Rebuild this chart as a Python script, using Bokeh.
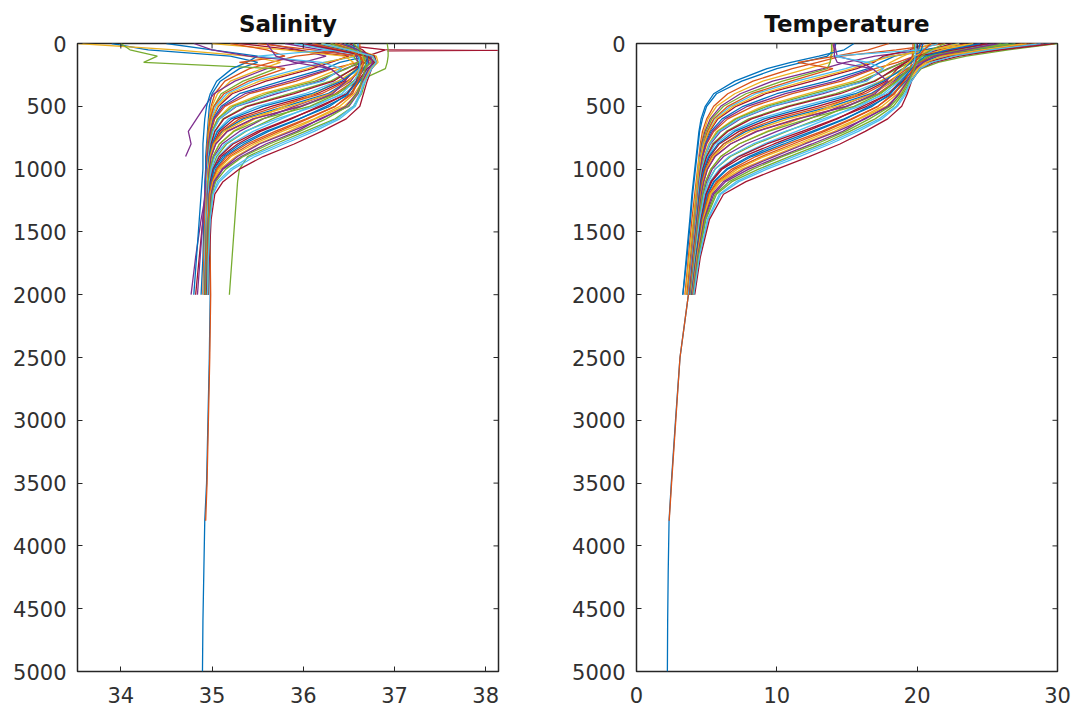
from bokeh.plotting import figure
from bokeh.layouts import row
from bokeh.models import FixedTicker, Range1d
from bokeh.embed import file_html
from bokeh.resources import INLINE

# Depth levels (m) shared by all profiles; a profile stops where its list ends
DEPTH = [0, 50, 100, 150, 200, 300, 400, 500, 600, 700, 800, 900, 1000,
         1100, 1200, 1400, 1700, 2000, 2500, 3000, 3500, 3800, 4200, 4600, 5000]

TEMP = [
    [14.2, 14.1, 13.6, 11.8, 10.0, 7.5, 5.7, 5.0, 4.7, 4.5, 4.4, 4.3, 4.2, 4.1, 4.0, 3.85, 3.6, 3.3],
    [22.0, 18.5, 14.6, 12.9, 11.1, 8.3, 6.5, 5.5, 5.0, 4.7, 4.55, 4.45, 4.35, 4.25, 4.15, 3.95, 3.7, 3.45],
    [14.0, 14.0, 13.9, 13.8, 12.2, 9.0, 7.0, 5.7, 5.1, 4.8, 4.6, 4.47, 4.38, 4.3, 4.22, 4.05, 3.75, 3.5],
    [24.5, 20.5, 17.0, 14.9, 13.3, 9.7, 7.4, 6.0, 5.26, 4.88, 4.64, 4.5],
    [13.9, 13.9, 13.85, 13.8, 13.6, 10.4, 7.8, 6.2, 5.36, 4.96, 4.7, 4.55, 4.45, 4.36, 4.28, 4.1, 3.85, 3.6],
    [26.5, 22.0, 18.0, 16.4, 14.9, 11.4, 8.5, 6.7, 5.55, 5.06, 4.75, 4.56, 4.46, 4.38, 4.3, 4.15, 3.9, 3.62],
    [20.5, 19.5, 17.6, 16.9, 15.7, 12.5, 9.2, 7.1, 5.8, 5.2, 4.82, 4.6, 4.5, 4.42, 4.35, 4.2, 3.9, 3.65],
    [23.0, 20.5, 18.4, 17.4, 16.5, 13.6, 10.0, 7.6, 6.1, 5.3, 4.9, 4.65, 4.5, 4.42, 4.35, 4.2, 3.95, 3.7,
     3.1, 2.78, 2.48, 2.32, 2.26, 2.22, 2.2],
    [28.0, 23.5, 19.8, 18.6, 17.0, 14.6, 11.1, 8.3, 6.5, 5.5, 5.0, 4.72, 4.55, 4.45, 4.38, 4.22, 3.95, 3.7,
     3.1, 2.8, 2.5, 2.33],
    [21.0, 20.0, 19.0, 18.1, 17.5, 15.5, 12.2, 9.0, 7.0, 5.7, 5.14, 4.8, 4.6, 4.48, 4.4, 4.25, 4.0, 3.75],
    [25.5, 22.0, 19.8, 19.0, 17.9, 16.2, 13.3, 9.7, 7.4, 6.0, 5.26, 4.88, 4.64, 4.5, 4.42, 4.25, 3.98, 3.72],
    [19.8, 19.8, 19.7, 19.5, 18.6, 16.9, 14.2, 10.7, 8.0, 6.4, 5.42, 4.98, 4.7, 4.55, 4.45, 4.28, 4.0, 3.75],
    [29.0, 25.0, 21.5, 20.2, 19.2, 17.4, 15.2, 11.8, 8.7, 6.8, 5.6, 5.1, 4.77, 4.6, 4.5, 4.3, 4.05, 3.8],
    [23.5, 21.5, 19.9, 19.2, 18.6, 17.8, 16.0, 12.9, 9.5, 7.3, 5.9, 5.22, 4.85, 4.65, 4.52, 4.32, 4.05, 3.8],
    [20.2, 20.1, 20.0, 19.9, 19.6, 18.1, 16.7, 13.9, 10.4, 7.8, 6.2, 5.36, 4.94, 4.72, 4.58, 4.35, 4.08, 3.82],
    [27.5, 24.0, 21.0, 20.0, 19.4, 18.45, 17.2, 14.9, 11.4, 8.5, 6.7, 5.55, 5.06, 4.8, 4.62, 4.38, 4.1, 3.85],
    [24.0, 21.8, 20.3, 19.6, 19.0, 17.4, 15.8, 13.8, 11.6, 9.3, 7.3, 6.0, 5.3, 4.92, 4.7, 4.45, 4.15, 3.85],
    [20.0, 20.0, 19.95, 19.9, 19.7, 18.3, 16.8, 14.5, 12.3, 10.0, 7.8, 6.2, 5.4, 5.0, 4.75, 4.48, 4.18, 3.9],
    [26.0, 23.0, 20.8, 20.0, 19.5, 18.6, 17.3, 15.0, 13.0, 10.7, 8.5, 6.7, 5.6, 5.1, 4.82, 4.52, 4.2, 3.9],
    [29.5, 25.5, 22.0, 20.5, 19.8, 19.0, 17.8, 15.6, 13.6, 11.4, 9.1, 7.2, 5.9, 5.24, 4.9, 4.58, 4.22, 3.92],
    [22.5, 21.0, 20.2, 19.8, 19.5, 18.8, 18.0, 16.1, 14.3, 12.1, 9.8, 7.6, 6.1, 5.36, 4.97, 4.62, 4.25, 3.95],
    [27.0, 24.2, 21.5, 20.4, 19.9, 19.2, 18.3, 16.6, 14.9, 12.7, 10.5, 8.2, 6.5, 5.55, 5.08, 4.68, 4.28, 3.97],
    [19.7, 19.7, 19.65, 19.6, 19.5, 19.0, 18.4, 17.2, 15.4, 13.4, 11.15, 8.9, 7.0, 5.8, 5.2, 4.72, 4.3, 4.0],
    [28.5, 25.0, 22.3, 20.8, 20.1, 19.4, 18.8, 17.8, 15.9, 14.1, 11.8, 9.6, 7.5, 6.0, 5.3, 4.8, 4.35, 4.0],
    [25.0, 22.5, 20.9, 20.2, 19.8, 19.3, 18.7, 18.0, 16.2, 14.7, 12.5, 10.2, 8.0, 6.35, 5.5, 4.85, 4.38, 4.02],
    [30.0, 26.5, 23.5, 21.5, 20.3, 19.5, 19.0, 18.3, 17.0, 15.2, 13.2, 10.9, 8.7, 6.8, 5.7, 4.95, 4.42, 4.05],
    [23.0, 21.2, 20.4, 20.0, 19.8, 19.5, 19.2, 18.6, 17.5, 15.8, 13.8, 11.6, 9.3, 7.3, 6.0, 5.1, 4.5, 4.1],
    [29.0, 25.8, 23.0, 21.2, 20.2, 19.6, 19.3, 18.9, 17.9, 16.3, 14.5, 12.3, 10.0, 7.8, 6.2, 5.2, 4.55, 4.15],
    [15.5, 14.8, 13.0, 11.0, 9.3, 7.0, 5.5, 4.9, 4.6, 4.45, 4.35, 4.25, 4.15, 4.05, 3.95, 3.8, 3.55, 3.3],
    [18.0, 16.5, 14.2, 11.5, 14.0, 11.0, 8.2, 6.5, 5.5, 5.05, 4.78, 4.6, 4.48, 4.4, 4.32, 4.15, 3.88, 3.6],
    [24.0, 21.0, 18.2, 16.6, 15.4, 12.0, 8.9, 6.9, 5.7, 5.15, 4.8, 4.6, 4.48, 4.4, 4.33, 4.18, 3.92, 3.66],
    [14.1, 14.2, 14.3, 16.0, 16.8, 14.2, 10.6, 7.9, 6.3, 5.4, 4.95, 4.7, 4.55, 4.45, 4.38, 4.22, 3.95, 3.7],
    [27.0, 23.8, 20.4, 19.0, 18.0, 15.9, 12.6, 9.3, 7.1, 5.8, 5.2, 4.85, 4.62, 4.5, 4.42, 4.26, 4.0, 3.75],
    [21.5, 20.2, 14.0, 16.5, 17.6, 16.4, 13.0, 9.6, 7.3, 5.9, 5.2, 4.88, 4.65, 4.5, 4.42, 4.25, 3.98, 3.72],
    [25.0, 22.6, 20.0, 19.2, 18.4, 17.0, 14.5, 10.9, 8.2, 6.5, 5.5, 5.0, 4.72, 4.57, 4.47, 4.3, 4.02, 3.77],
    [20.4, 20.3, 20.0, 19.6, 19.0, 17.6, 15.6, 12.3, 9.1, 7.0, 5.8, 5.15, 4.8, 4.62, 4.5, 4.32, 4.05, 3.8],
    [28.5, 24.8, 21.3, 20.1, 19.3, 18.0, 16.3, 13.4, 10.0, 7.6, 6.2, 5.35, 4.92, 4.68, 4.55, 4.35, 4.06, 3.8],
    [23.0, 21.0, 19.8, 19.4, 19.0, 18.2, 16.9, 14.3, 10.8, 8.1, 6.4, 5.45, 4.98, 4.74, 4.6, 4.38, 4.1, 3.85],
    [14.0, 14.1, 14.1, 14.3, 16.8, 17.9, 17.0, 15.0, 11.5, 8.6, 6.7, 5.6, 5.05, 4.78, 4.62, 4.4, 4.12, 3.86],
    [26.5, 23.6, 20.9, 20.0, 19.4, 18.5, 17.4, 15.5, 12.2, 9.4, 7.3, 6.0, 5.3, 4.92, 4.7, 4.44, 4.14, 3.87],
    [19.9, 19.9, 19.85, 19.8, 19.6, 18.7, 17.6, 15.9, 13.3, 10.6, 8.3, 6.6, 5.6, 5.1, 4.82, 4.5, 4.18, 3.9],
    [29.8, 26.0, 22.4, 20.6, 19.8, 19.0, 18.0, 16.4, 14.2, 11.8, 9.3, 7.3, 6.0, 5.3, 4.95, 4.6, 4.24, 3.93],
    [24.5, 22.2, 20.6, 20.0, 19.6, 18.9, 18.1, 16.8, 14.8, 12.5, 10.1, 8.0, 6.4, 5.5, 5.05, 4.65, 4.26, 3.95],
    [21.0, 20.5, 20.1, 19.9, 19.7, 19.1, 18.3, 17.2, 15.3, 13.2, 10.8, 8.5, 6.8, 5.7, 5.15, 4.7, 4.3, 3.97],
    [27.8, 24.6, 21.8, 20.6, 20.0, 19.3, 18.6, 17.5, 15.8, 13.7, 11.5, 9.1, 7.2, 5.9, 5.25, 4.75, 4.32, 4.0],
    [25.8, 23.4, 21.2, 20.4, 19.9, 19.3, 18.7, 17.9, 16.3, 14.3, 12.0, 9.8, 7.7, 6.2, 5.4, 4.82, 4.36, 4.02],
    [22.0, 21.0, 20.3, 20.0, 19.8, 19.4, 18.9, 18.1, 16.6, 14.9, 12.8, 10.4, 8.3, 6.6, 5.6, 4.9, 4.4, 4.05],
    [28.8, 25.2, 22.6, 21.0, 20.2, 19.6, 19.1, 18.5, 17.3, 15.5, 13.5, 11.2, 9.0, 7.1, 5.9, 5.05, 4.48, 4.08],
]

SAL = [
    [33.9, 34.3, 35.2, 35.5, 35.3, 35.09, 35.0, 34.97, 34.96, 34.95, 34.94, 34.93, 34.93, 34.92, 34.92, 34.91, 34.9, 34.88],
    [36.1, 36.5, 35.92, 35.65, 35.41, 35.14, 35.03, 34.99, 34.97, 34.96, 34.95, 34.95, 34.95, 34.95, 34.95, 34.95, 34.94, 34.93],
    [33.53, 34.6, 35.4, 35.75, 35.55, 35.2, 35.06, 35.0, 34.97, 34.96, 34.95, 34.95, 34.94, 34.94, 34.94, 34.93, 34.93, 34.92],
    [35.6, 35.95, 36.25, 36.0, 35.6, 35.25, 35.02, 34.92, 34.83, 34.74, 34.77, 34.71],
    [34.0, 34.1, 34.4, 34.25, 35.7, 35.34, 35.1, 35.02, 34.98, 34.96, 34.95, 34.95, 34.95, 34.95, 34.94, 34.94, 34.93, 34.93],
    [36.2, 36.45, 36.6, 36.22, 35.96, 35.45, 35.16, 35.04, 34.99, 34.97, 34.96, 34.95, 34.95, 34.95, 34.95, 34.95, 34.95, 34.94],
    [35.3, 35.9, 36.5, 36.3, 36.1, 35.59, 35.22, 35.07, 35.0, 34.98, 34.96, 34.95, 34.94, 34.93, 34.93, 34.9, 34.86, 34.82],
    [36.3, 36.55, 36.7, 36.4, 36.24, 35.76, 35.3, 35.1, 35.01, 34.98, 34.97, 34.97, 34.97, 34.97, 34.97, 34.97, 34.98, 34.98,
     34.97, 34.955, 34.94, 34.92, 34.91, 34.9, 34.895],
    [36.4, 36.6, 36.75, 36.6, 36.32, 35.92, 35.41, 35.14, 35.03, 34.99, 34.97, 34.97, 34.97, 34.97, 34.97, 34.97, 34.98, 34.985,
     34.975, 34.96, 34.945, 34.93],
    [35.0, 35.8, 36.45, 36.55, 36.4, 36.07, 35.55, 35.2, 35.06, 35.0, 34.97, 34.96, 34.95, 34.94, 34.94, 34.93, 34.92, 34.91],
    [35.8, 36.2, 36.6, 36.65, 36.46, 36.18, 35.71, 35.27, 35.08, 35.0, 34.97, 34.95, 34.94, 34.94, 34.93, 34.88, 34.82, 34.77],
    [36.5, 36.5, 36.55, 36.6, 36.56, 36.3, 35.85, 35.37, 35.12, 35.03, 34.99, 34.97, 34.96, 34.95, 34.95, 34.95, 34.94, 34.93],
    [36.0, 36.3, 36.7, 36.75, 36.65, 36.38, 36.02, 35.5, 35.18, 35.05, 35.0, 34.97, 34.96, 34.96, 34.95, 34.95, 34.94, 34.94],
    [36.3, 36.9, 36.7, 36.65, 36.58, 36.45, 36.15, 35.65, 35.25, 35.08, 35.01, 34.98, 34.96, 34.95, 34.95, 34.94, 34.93, 34.92],
    [36.6, 36.6, 36.62, 36.65, 36.64, 36.49, 36.27, 35.8, 35.34, 35.11, 35.02, 34.98, 34.97, 34.96, 34.96, 34.95, 34.95, 34.94],
    [35.5, 36.1, 36.6, 36.72, 36.68, 36.55, 36.35, 35.96, 35.45, 35.16, 35.04, 34.99, 34.97, 34.96, 34.96, 34.95, 34.94, 34.93],
    [36.2, 36.5, 36.7, 36.68, 36.6, 36.38, 36.12, 35.79, 35.47, 35.23, 35.08, 35.01, 34.98, 34.97, 34.96, 34.96, 34.95, 34.95],
    [36.55, 36.56, 36.58, 36.6, 36.62, 36.52, 36.29, 35.9, 35.56, 35.3, 35.11, 35.02, 34.98, 34.97, 34.96, 34.95, 34.94, 34.93],
    [36.92, 36.93, 36.93, 36.92, 36.9, 36.6, 36.37, 35.98, 35.66, 35.37, 35.16, 35.05, 35.0, 34.97, 34.96, 34.95, 34.95, 34.94],
    [35.9, 36.3, 36.75, 36.8, 36.7, 36.62, 36.45, 36.08, 35.76, 35.45, 35.21, 35.07, 35.0, 34.98, 34.97, 34.96, 34.95, 34.95],
    [36.4, 36.55, 36.65, 36.65, 36.63, 36.58, 36.48, 36.17, 35.87, 35.53, 35.28, 35.1, 35.02, 34.99, 34.97, 34.96, 34.95, 34.95],
    [36.1, 36.45, 36.72, 36.78, 36.72, 36.62, 36.52, 36.25, 35.96, 35.62, 35.35, 35.14, 35.04, 35.0, 34.98, 34.97, 34.96, 34.96],
    [36.62, 36.62, 36.63, 36.63, 36.63, 36.6, 36.54, 36.35, 36.05, 35.73, 35.42, 35.19, 35.06, 35.0, 34.98, 34.96, 34.95, 34.95],
    [36.35, 36.6, 36.8, 36.82, 36.75, 36.66, 36.6, 36.45, 36.13, 35.84, 35.5, 35.26, 35.09, 35.01, 34.98, 34.97, 34.96, 34.96],
    [36.0, 36.4, 36.7, 36.72, 36.68, 36.64, 36.6, 36.5, 36.18, 35.93, 35.59, 35.32, 35.12, 35.03, 34.99, 34.97, 34.96, 34.95],
    [36.2, 36.5, 36.78, 36.8, 36.74, 36.68, 36.64, 36.55, 36.35, 36.02, 35.69, 35.39, 35.3, 35.28, 35.27, 35.25, 35.22, 35.19],
    [36.5, 36.6, 36.68, 36.7, 36.7, 36.66, 36.63, 36.57, 36.4, 36.12, 35.79, 35.47, 35.23, 35.08, 35.01, 34.98, 34.96, 34.96],
    [36.3, 36.55, 36.78, 36.8, 36.75, 36.7, 36.66, 36.62, 36.47, 36.2, 35.9, 35.56, 35.3, 35.12, 35.03, 34.99, 34.97, 34.96],
    [34.5, 35.0, 35.5, 35.38, 35.22, 35.05, 34.98, 34.94, 34.92, 34.91, 34.9, 34.9, 34.9, 34.89, 34.88, 34.86, 34.83, 34.8],
    [35.2, 35.6, 35.8, 35.3, 35.8, 35.4, 35.13, 35.02, 34.98, 34.96, 34.95, 34.94, 34.94, 34.93, 34.93, 34.92, 34.91, 34.9],
    [36.4, 36.6, 36.55, 36.25, 36.05, 35.52, 35.19, 35.06, 35.0, 34.97, 34.96, 34.95, 34.95, 34.94, 34.94, 34.93, 34.92, 34.91],
    [34.8, 35.0, 35.4, 36.1, 36.3, 35.85, 35.36, 35.12, 35.02, 34.98, 34.96, 34.95, 34.94, 34.93, 34.92, 34.9, 34.87, 34.84],
    [36.3, 36.55, 36.7, 36.6, 36.48, 36.13, 35.6, 35.23, 35.06, 35.0, 34.97, 34.96, 34.95, 34.95, 34.94, 34.94, 34.93, 34.92],
    [36.0, 36.3, 35.5, 36.2, 36.42, 36.22, 35.66, 35.26, 35.08, 35.01, 34.98, 34.96, 34.95, 34.94, 34.94, 34.93, 34.92, 34.91],
    [36.5, 36.65, 36.72, 36.68, 36.55, 36.33, 35.9, 35.39, 35.13, 35.03, 34.99, 34.97, 34.96, 34.96, 34.95, 34.95, 34.94, 34.93],
    [36.55, 36.56, 36.6, 36.62, 36.6, 36.42, 36.09, 35.56, 35.21, 35.06, 35.0, 34.97, 34.96, 34.95, 34.95, 34.94, 34.93, 34.92],
    [36.1, 36.4, 36.68, 36.75, 36.66, 36.48, 36.2, 35.72, 35.3, 35.1, 35.01, 34.98, 34.96, 34.95, 34.95, 34.94, 34.93, 34.92],
    [36.45, 36.6, 36.65, 36.66, 36.62, 36.5, 36.3, 35.86, 35.38, 35.13, 35.02, 34.98, 34.96, 34.95, 34.95, 34.94, 34.94, 34.93],
    [35.6, 35.65, 35.7, 35.9, 36.3, 36.47, 36.32, 35.98, 35.45, 35.17, 35.04, 34.99, 34.97, 34.96, 34.95, 34.95, 34.94, 34.93],
    [36.3, 36.55, 36.72, 36.74, 36.67, 36.55, 36.38, 36.07, 35.55, 35.24, 35.08, 35.01, 34.98, 34.96, 34.96, 34.95, 34.94, 34.93],
    [36.6, 36.6, 36.61, 36.62, 36.62, 36.56, 36.42, 36.13, 35.71, 35.36, 35.14, 35.03, 34.99, 34.97, 34.96, 34.95, 34.95, 34.94],
    [36.0, 36.35, 36.7, 36.78, 36.7, 36.6, 36.48, 36.2, 35.85, 35.5, 35.23, 35.08, 35.01, 34.98, 34.97, 34.96, 34.95, 34.94],
    [36.45, 36.6, 36.7, 36.7, 36.66, 36.59, 36.49, 36.29, 35.95, 35.59, 35.31, 35.12, 35.02, 34.99, 34.97, 34.96, 34.95, 34.95],
    [36.35, 36.5, 36.62, 36.66, 36.65, 36.6, 36.52, 36.35, 36.03, 35.69, 35.38, 35.16, 35.05, 35.0, 34.97, 34.96, 34.95, 34.95],
    [36.2, 36.5, 36.75, 36.8, 36.74, 36.65, 36.56, 36.4, 36.12, 35.77, 35.46, 35.21, 35.07, 35.01, 34.98, 34.97, 34.96, 34.95],
    [36.4, 36.6, 36.74, 36.76, 36.72, 36.65, 36.58, 36.47, 36.2, 35.87, 35.52, 35.28, 35.11, 35.02, 34.99, 34.97, 34.96, 34.95],
    [36.55, 36.62, 36.66, 36.68, 36.68, 36.64, 36.59, 36.49, 36.25, 35.96, 35.63, 35.34, 35.15, 35.04, 35.0, 34.97, 34.96, 34.95],
    [36.2, 36.5, 36.76, 36.8, 36.75, 36.68, 36.62, 36.55, 36.37, 36.07, 35.74, 35.42, 35.2, 35.06, 35.01, 34.98, 34.96, 34.95],
]

# near-surface salinity spike of profile 14
SPIKE_DEPTH = [50, 55, 60]
SPIKE_SAL = [36.9, 38.13, 36.92]
SPIKE_PROFILE = 13

COLORS = ["#0072BD", "#D95319", "#EDB120", "#7E2F8E", "#77AC30", "#4DBEEE", "#A2142F"]

DEPTH_TICKS = [0, 500, 1000, 1500, 2000, 2500, 3000, 3500, 4000, 4500, 5000]
SAL_TICKS = [34, 35, 36, 37, 38]
TEMP_TICKS = [0, 10, 20, 30]
SAL_RANGE = (33.525, 38.14)
TEMP_RANGE = (0, 30)

FONT = "DejaVu Sans"
TXT = "#303030"
BOX = "#262626"
FRAME_W, FRAME_H = 421, 628
TICK_PX = 5


def style_axis(ax, ticks):
    ax.ticker = FixedTicker(ticks=ticks)
    ax.minor_tick_line_color = None
    ax.major_tick_in = TICK_PX
    ax.major_tick_out = 0
    ax.major_tick_line_color = BOX
    ax.major_tick_line_width = 1
    ax.axis_line_color = None
    ax.major_label_text_font = FONT
    ax.major_label_text_font_size = "21px"
    ax.major_label_text_color = TXT


def panel(title, x_range, xticks, profiles, left, right, spike=None):
    x0, x1 = x_range
    p = figure(frame_width=FRAME_W, frame_height=FRAME_H,
               x_range=Range1d(x0, x1), y_range=Range1d(5000, 0),
               output_backend="svg", toolbar_location=None,
               min_border_left=left, min_border_right=right,
               min_border_top=43, min_border_bottom=46)
    p.title.text = title
    p.title.align = "center"
    p.title.text_font = FONT
    p.title.text_font_style = "bold"
    p.title.text_font_size = "23px"
    p.title.text_color = "#111111"
    p.title.standoff = 14
    p.xgrid.visible = False
    p.ygrid.visible = False
    p.outline_line_color = BOX
    p.outline_line_width = 1.5
    p.outline_line_alpha = 1
    p.background_fill_color = "white"
    p.border_fill_color = "white"

    for i, vals in enumerate(profiles):
        p.line(vals, DEPTH[:len(vals)], line_color=COLORS[i % len(COLORS)], line_width=1.3)
        if spike is not None and i == spike[0]:
            p.line(spike[2], spike[1], line_color=COLORS[i % len(COLORS)], line_width=1.0)

    # mirrored inward ticks on the right and top edges (MATLAB box style)
    dx = TICK_PX * (x1 - x0) / FRAME_W
    dy = TICK_PX * 5000 / FRAME_H
    p.segment(x0=[x1] * len(DEPTH_TICKS), y0=DEPTH_TICKS,
              x1=[x1 - dx] * len(DEPTH_TICKS), y1=DEPTH_TICKS,
              line_color=BOX, line_width=1)
    p.segment(x0=xticks, y0=[0] * len(xticks), x1=xticks, y1=[dy] * len(xticks),
              line_color=BOX, line_width=1)

    style_axis(p.xaxis[0], xticks)
    p.xaxis[0].major_label_standoff = 15
    style_axis(p.yaxis[0], DEPTH_TICKS)
    p.yaxis[0].major_label_standoff = 11
    return p


p1 = panel("Salinity", SAL_RANGE, SAL_TICKS, SAL, 77, 41,
           spike=(SPIKE_PROFILE, SPIKE_DEPTH, SPIKE_SAL))
p2 = panel("Temperature", TEMP_RANGE, TEMP_TICKS, TEMP, 97, 21)

layout = row(p1, p2)
open("out.html", "w").write(file_html(layout, INLINE))
